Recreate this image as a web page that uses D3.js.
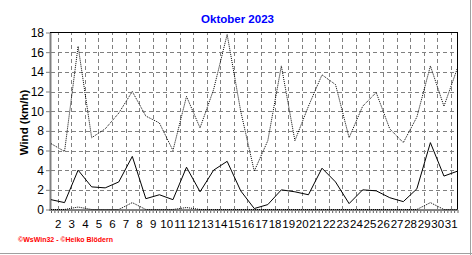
<!DOCTYPE html>
<html>
<head>
<meta charset="utf-8">
<script src="https://cdn.jsdelivr.net/npm/d3@7"></script>
<style>
  body { margin: 0; background: #fff; }
  text { font-family: "Liberation Sans", Arial, sans-serif; }
</style>
</head>
<body>
<div id="wind_graph"></div>
<script>

// days of the month
var days = [1,2,3,4,5,6,7,8,9,10,11,12,13,14,15,16,17,18,19,20,21,22,23,24,25,26,27,28,29,30,31];

// mean wind (solid line)
var windMean = [1.0,0.7,4.0,2.3,2.2,2.8,5.4,1.1,1.5,1.0,4.3,1.8,4.0,4.9,1.9,0.1,0.5,2.0,1.8,1.5,
                4.2,2.8,0.6,2.0,1.9,1.2,0.8,2.1,6.8,3.4,3.9];

// gusts (upper dotted line)
var windGust = [6.7,5.9,16.6,7.3,8.2,9.8,12.0,9.5,8.8,6.0,11.5,8.3,12.2,17.8,10.0,3.9,7.0,14.6,7.0,10.5,
                13.7,12.7,7.3,10.5,11.9,8.2,6.8,9.4,14.6,10.5,14.4];

// minimum (lower dotted line)
var windMin = [0,0,0.25,0,0,0,0.7,0,0,0,0.2,0,0,0,0,0,0,0,0,0,
               0,0,0,0,0,0,0,0,0.7,0,0];

var xTickLabels = ["2","3","4","5","6","7","8","9","10","11","12","13","14","15","16",
                   "17","18","19","20","21","22","23","24","25","26","27","28","29","30","31"];
var yTicks = [0,2,4,6,8,10,12,14,16,18];

var title = "Oktober 2023";
var yTitle = "Wind  (km/h)";
var footer = "\u00a9WsWin32 - \u00a9Heiko Blödern";

function drawChart() {

  var W = 472, H = 255;
  var left = 51, right = 457.5, top = 32.5, bottom = 209.5;

  var svg = d3.select("#wind_graph")
    .append("svg")
      .attr("width", W)
      .attr("height", H)
      .style("display", "block");

  svg.append("rect").attr("width", W).attr("height", H).attr("fill", "#fff");

  // frame lines at right and bottom edge
  svg.append("line").attr("x1", 0).attr("x2", W).attr("y1", H - 1.5).attr("y2", H - 1.5)
    .attr("stroke", "#a0a0a0").attr("stroke-width", 1);
  svg.append("line").attr("x1", W - 1.5).attr("x2", W - 1.5).attr("y1", 0).attr("y2", H)
    .attr("stroke", "#a0a0a0").attr("stroke-width", 1);

  var x = d3.scaleLinear().domain([1, 31]).range([left, right]);
  var y = d3.scaleLinear().domain([0, 18]).range([bottom, top]);

  // label for day d sits half a day before the data point
  var xTickPos = xTickLabels.map(function(l) { return +l - 0.5; });

  // vertical grid
  var gx = svg.append("g")
    .attr("transform", "translate(0," + bottom + ")")
    .call(d3.axisBottom(x).tickValues(xTickPos).tickSize(-(bottom - top)).tickFormat(""));
  gx.select(".domain").remove();
  gx.selectAll("line")
    .attr("stroke", "#808080").attr("stroke-dasharray", "4,3")
    .attr("shape-rendering", "crispEdges");

  // horizontal grid
  var gy = svg.append("g")
    .attr("transform", "translate(" + left + ",0)")
    .call(d3.axisLeft(y).tickValues(yTicks.slice(1, -1)).tickSize(-(right - left)).tickFormat(""));
  gy.select(".domain").remove();
  gy.selectAll("line")
    .attr("stroke", "#808080").attr("stroke-dasharray", "4,3")
    .attr("shape-rendering", "crispEdges");

  // top and right border
  svg.append("path")
    .attr("d", "M" + (left - 1) + "," + top + "H" + right + "V" + bottom)
    .attr("fill", "none").attr("stroke", "#000").attr("stroke-width", 1)
    .attr("shape-rendering", "crispEdges");

  // y axis
  var yAxis = svg.append("g")
    .attr("transform", "translate(" + (left - 1) + ",0)")
    .call(d3.axisLeft(y).tickValues(yTicks).tickSize(4).tickPadding(2).tickSizeOuter(0));
  yAxis.select(".domain").attr("stroke", "#808080").attr("stroke-width", 2);
  yAxis.selectAll("line").attr("stroke", "#808080");
  yAxis.selectAll("text").attr("font-size", "12px").attr("fill", "#000");

  // x axis minor ticks (6 hours)
  var minor = d3.range(1, 31.01, 0.25);
  var xMinor = svg.append("g")
    .attr("transform", "translate(0," + (bottom + 0.5) + ")")
    .call(d3.axisBottom(x).tickValues(minor).tickSize(3).tickFormat("").tickSizeOuter(0));
  xMinor.select(".domain").remove();
  xMinor.selectAll("line").attr("stroke", "#606060");

  // x axis
  var xAxis = svg.append("g")
    .attr("transform", "translate(0," + (bottom + 0.5) + ")")
    .call(d3.axisBottom(x).tickValues(xTickPos).tickSize(0).tickPadding(10)
      .tickFormat(function(d, i) { return xTickLabels[i]; }));
  xAxis.select(".domain").remove();
  xAxis.selectAll("text").attr("font-size", "11.5px").attr("fill", "#000");

  svg.append("line")
    .attr("x1", left - 2).attr("x2", right).attr("y1", bottom + 0.5).attr("y2", bottom + 0.5)
    .attr("stroke", "#808080").attr("stroke-width", 2);

  // series
  var line = function(vals) {
    return d3.line()
      .x(function(d, i) { return x(days[i]); })
      .y(function(d) { return y(d); })(vals);
  };

  svg.append("path").attr("d", line(windGust))
    .attr("fill", "none").attr("stroke", "#000").attr("stroke-width", 1)
    .attr("stroke-dasharray", "1,1");

  svg.append("path").attr("d", line(windMin))
    .attr("fill", "none").attr("stroke", "#000").attr("stroke-width", 1)
    .attr("stroke-dasharray", "1,1");

  svg.append("path").attr("d", line(windMean))
    .attr("fill", "none").attr("stroke", "#000").attr("stroke-width", 1);

  // titles
  svg.append("text")
    .attr("x", 237.5).attr("y", 23.3)
    .attr("text-anchor", "middle")
    .attr("font-size", "11.5px").attr("font-weight", "bold")
    .attr("fill", "#0000ff")
    .text(title);

  svg.append("text")
    .attr("transform", "translate(27.5,122.5) rotate(-90)")
    .attr("text-anchor", "middle")
    .attr("font-size", "11.5px").attr("font-weight", "bold")
    .attr("fill", "#000")
    .text(yTitle);

  svg.append("text")
    .attr("x", 18).attr("y", 241.5)
    .attr("font-size", "7.5px").attr("font-weight", "bold")
    .attr("fill", "#ff0000")
    .attr("textLength", 95).attr("lengthAdjust", "spacingAndGlyphs")
    .text(footer);
}

drawChart();

</script>
</body>
</html>
